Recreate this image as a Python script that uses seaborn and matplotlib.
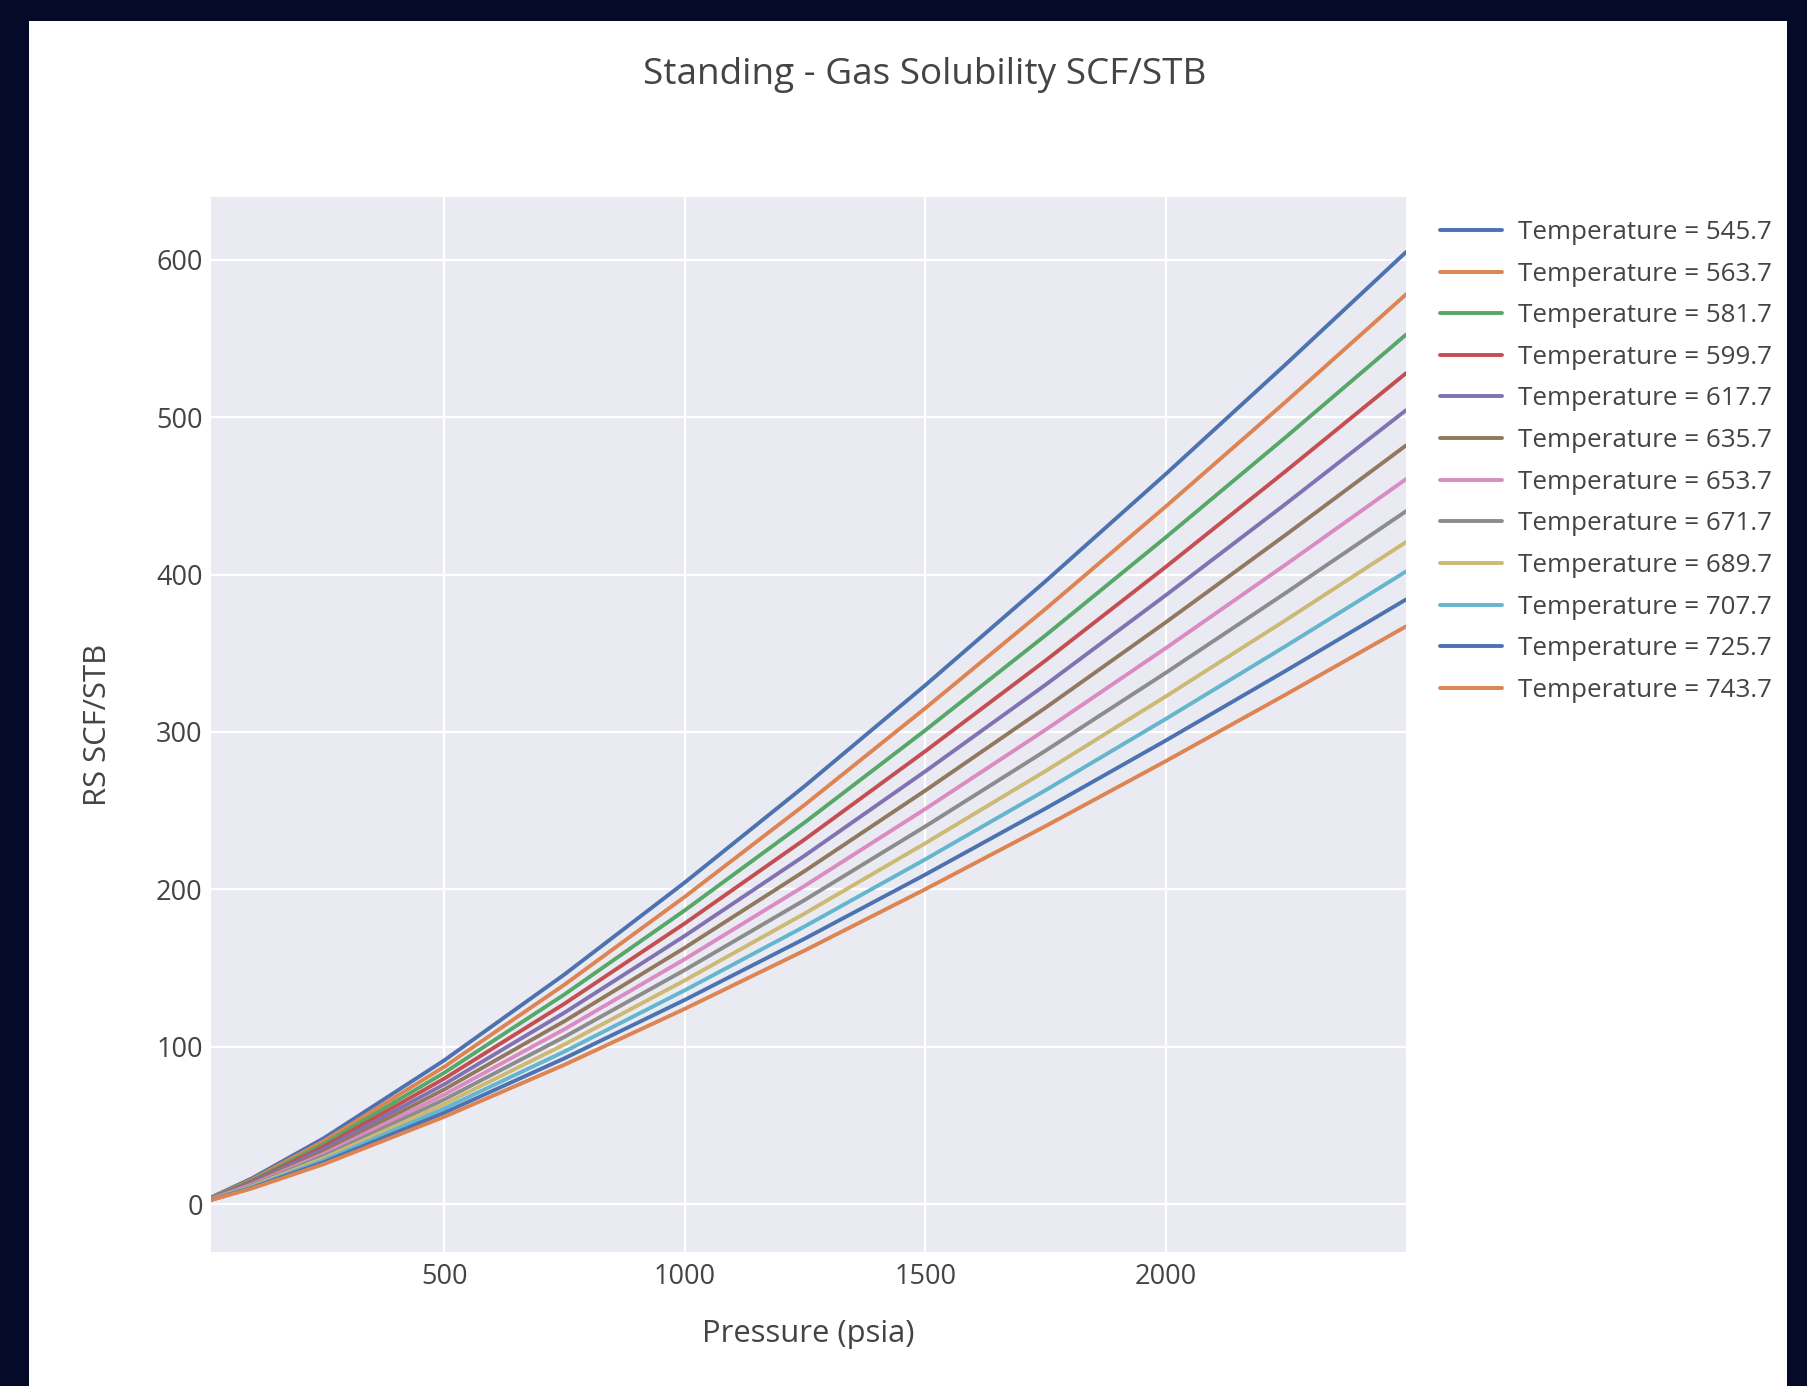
import matplotlib
matplotlib.use("Agg")
import matplotlib.pyplot as plt
from matplotlib.patches import Rectangle
import seaborn as sns
import pandas as pd

pressure = [15, 100, 250, 500, 750, 1000, 1250, 1500, 1750, 2000, 2250, 2500]
temperatures = [545.7, 563.7, 581.7, 599.7, 617.7, 635.7, 653.7, 671.7, 689.7, 707.7, 725.7, 743.7]

rs_545 = [4.2, 16.3, 41.9, 91.3, 145.9, 204.3, 265.7, 329.6, 395.7, 463.8, 533.7, 605.0]
rs_563 = [4.0, 15.5, 40.1, 87.2, 139.4, 195.2, 253.8, 315.0, 378.1, 443.2, 509.9, 578.1]
rs_581 = [3.8, 14.9, 38.3, 83.4, 133.2, 186.6, 242.6, 301.0, 361.3, 423.6, 487.4, 552.5]
rs_599 = [3.6, 14.2, 36.6, 79.7, 127.3, 178.3, 231.8, 287.7, 345.3, 404.8, 465.8, 528.0]
rs_617 = [3.5, 13.6, 35.0, 76.1, 121.6, 170.4, 221.5, 274.9, 329.9, 386.8, 445.0, 504.5]
rs_635 = [3.3, 13.0, 33.4, 72.8, 116.2, 162.8, 211.7, 262.7, 315.3, 369.6, 425.3, 482.1]
rs_653 = [3.2, 12.4, 31.9, 69.5, 111.1, 155.6, 202.3, 251.0, 301.3, 353.2, 406.4, 460.7]
rs_671 = [3.0, 11.8, 30.5, 66.4, 106.2, 148.7, 193.3, 239.9, 288.0, 337.5, 388.4, 440.3]
rs_689 = [2.9, 11.3, 29.2, 63.5, 101.4, 142.1, 184.7, 229.2, 275.1, 322.5, 371.1, 420.7]
rs_707 = [2.8, 10.8, 27.9, 60.7, 96.9, 135.8, 176.5, 219.0, 262.9, 308.2, 354.6, 402.0]
rs_725 = [2.6, 10.3, 26.6, 58.0, 92.6, 129.7, 168.7, 209.3, 251.3, 294.5, 338.9, 384.2]
rs_743 = [2.5, 9.9, 25.4, 55.4, 88.5, 124.0, 161.2, 200.0, 240.1, 281.4, 323.8, 367.1]

series = [rs_545, rs_563, rs_581, rs_599, rs_617, rs_635,
          rs_653, rs_671, rs_689, rs_707, rs_725, rs_743]

x_ticks = [500, 1000, 1500, 2000]
y_ticks = [0, 100, 200, 300, 400, 500, 600]

title = "Standing - Gas Solubility SCF/STB"
x_label = "Pressure (psia)"
y_label = "RS SCF/STB"

rows = []
for t, vals in zip(temperatures, series):
    lab = f"Temperature = {t}"
    for p, v in zip(pressure, vals):
        rows.append({"Pressure": p, "Rs": v, "Series": lab})
df = pd.DataFrame(rows)
labels = [f"Temperature = {t}" for t in temperatures]

sns.set_theme(style="darkgrid")
plt.rcParams["font.family"] = ["Open Sans", "DejaVu Sans"]

deep = sns.color_palette("deep", 10)
palette = {lab: deep[i % 10] for i, lab in enumerate(labels)}

W, H = 1808, 1386
fig = plt.figure(figsize=(W / 100, H / 100), dpi=100)
fig.patch.set_facecolor("#040a27")
fig.add_artist(Rectangle((29 / W, 0), (1787 - 29) / W, (H - 21) / H,
                         transform=fig.transFigure, facecolor="white",
                         edgecolor="none", zorder=-10))

ax = fig.add_axes([211 / W, 1 - 1252 / H, (1406 - 211) / W, (1252 - 197) / H])
ax.set_facecolor("#EAEAF2")

sns.lineplot(data=df, x="Pressure", y="Rs", hue="Series", hue_order=labels,
             palette=palette, linewidth=2.8, ax=ax, legend=True)

ax.set_xlim(15, 2500)
ax.set_ylim(-30.5, 640)
ax.set_xticks(x_ticks)
ax.set_yticks(y_ticks)
ax.grid(True, color="white", linewidth=1.6)
for s in ax.spines.values():
    s.set_visible(False)
ax.tick_params(axis="both", labelsize=19.5, colors="#444444", length=0)
ax.tick_params(axis="x", pad=8)
ax.tick_params(axis="y", pad=6)

ax.set_xlabel(x_label, fontsize=22.3, color="#444444")
ax.set_ylabel(y_label, fontsize=22.3, color="#444444")
ax.xaxis.set_label_coords(0.5, -0.0777)
ax.xaxis.label.set_va("center")
ax.yaxis.set_label_coords(-0.0946, 0.5)
ax.yaxis.label.set_va("center")

fig.text(925 / W, 1 - 75 / H, title, ha="center", va="center",
         fontsize=26.6, color="#444444")

handles, labs = ax.get_legend_handles_labels()
ax.get_legend().remove()
leg = fig.legend(handles, labs, loc="upper left",
                 bbox_to_anchor=(1440 / W, 1 - 220 / H),
                 frameon=False, fontsize=18.7, handlelength=2.4,
                 handletextpad=0.6, labelspacing=0.64,
                 borderpad=0, borderaxespad=0)
for t in leg.get_texts():
    t.set_color("#444444")
for l in leg.get_lines():
    l.set_linewidth(2.8)

fig.savefig("out.png", dpi=100, facecolor=fig.get_facecolor())
